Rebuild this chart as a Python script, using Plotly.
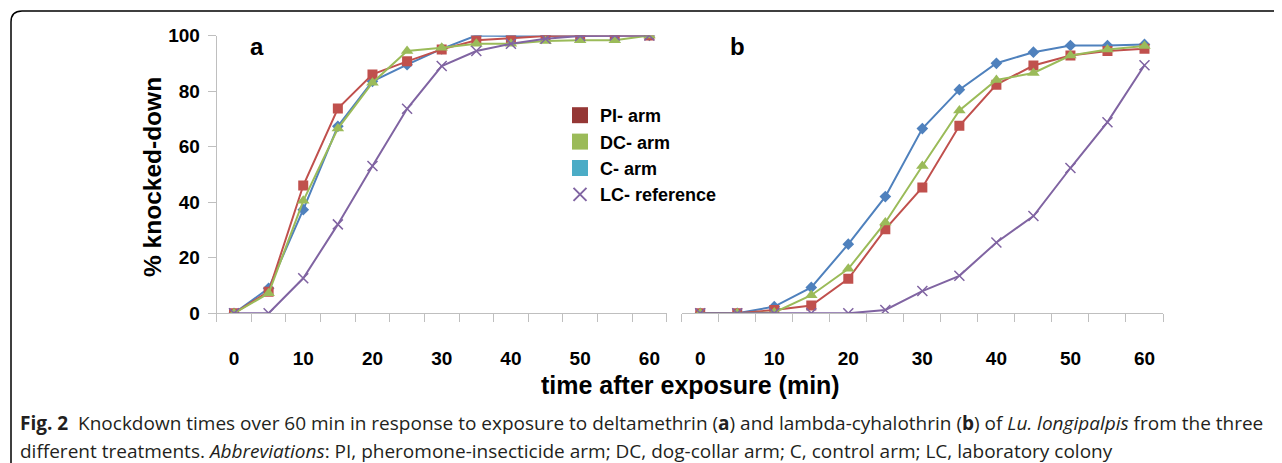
import plotly.graph_objects as go

W, H = 1282, 463
OFF = 8  # page body margin in the browser

# ---- data ----
minutes = [0, 5, 10, 15, 20, 25, 30, 35, 40, 45, 50, 55, 60]
x_tick_vals = [0, 10, 20, 30, 40, 50, 60]
x_tick_text = ["0", "10", "20", "30", "40", "50", "60"]
y_tick_vals = [0, 20, 40, 60, 80, 100]

a_PI = [0, 7.8, 46, 73.7, 86, 90.7, 95, 98.3, 99, 99.8, 100, 100, 100]
a_DC = [0, 7.2, 40.5, 66.5, 83, 94.4, 95.6, 97, 97, 98, 98.3, 98.3, 100]
a_C = [0, 9, 37.3, 67.3, 83.5, 89.5, 95.2, 100, 99.8, 100, 100, 100, 100]
a_LC = [0, 0, 12.6, 32, 53, 73.6, 89, 94.4, 97, 98.8, 99.8, 100, 100]

b_PI = [0, 0, 1.2, 2.8, 12.4, 30.3, 45.3, 67.5, 82.3, 89.2, 92.8, 94.4, 95.2]
b_DC = [0, 0, 0.3, 6.5, 16, 32.7, 53, 73, 84, 86.5, 92.8, 95, 96.2]
b_C = [0, 0, 2.4, 9.3, 24.9, 42, 66.5, 80.5, 90, 94, 96.4, 96.4, 96.8]
b_LC = [0, 0, 0, 0, 0, 1.2, 8, 13.5, 25.5, 35, 52.3, 68.8, 89.3]

series_names = ["PI- arm", "DC- arm", "C- arm", "LC- reference"]


def px(x):
    return (x - OFF) / W


def py(y):
    return 1 - (y - OFF) / H


AX = "#BFBFBF"
RED, GREEN, BLUE, PURPLE = "#C0504D", "#9BBB59", "#4F81BD", "#8064A2"
FONT = "Liberation Sans, Arial, sans-serif"

fig = go.Figure()


def add_panel(xa, ya, pi, dc, c, lc):
    # drawing order: C, PI, DC, LC
    fig.add_trace(go.Scatter(x=minutes, y=c, xaxis=xa, yaxis=ya, mode="lines+markers",
                             line=dict(color=BLUE, width=2),
                             marker=dict(symbol="diamond", size=9, color=BLUE),
                             showlegend=False))
    fig.add_trace(go.Scatter(x=minutes, y=pi, xaxis=xa, yaxis=ya, mode="lines+markers",
                             line=dict(color=RED, width=2),
                             marker=dict(symbol="square", size=10, color=RED),
                             showlegend=False))
    fig.add_trace(go.Scatter(x=minutes, y=dc, xaxis=xa, yaxis=ya, mode="lines+markers",
                             line=dict(color=GREEN, width=2),
                             marker=dict(symbol="triangle-up", size=11, color=GREEN),
                             showlegend=False))
    fig.add_trace(go.Scatter(x=minutes, y=lc, xaxis=xa, yaxis=ya, mode="lines+markers",
                             line=dict(color=PURPLE, width=2),
                             marker=dict(symbol="x-thin-open", size=10, color=PURPLE,
                                         line=dict(color=PURPLE, width=1.5)),
                             showlegend=False))


add_panel("x", "y", a_PI, a_DC, a_C, a_LC)
add_panel("x2", "y2", b_PI, b_DC, b_C, b_LC)

# legend-only entries
leg_colors = ["#953735", "#9BBB59", "#4BACC6"]
for name, col in zip(series_names[:3], leg_colors):
    fig.add_trace(go.Scatter(x=[None], y=[None], mode="markers", name=name,
                             marker=dict(symbol="square", size=16, color=col)))
fig.add_trace(go.Scatter(x=[None], y=[None], mode="markers", name=series_names[3],
                         marker=dict(symbol="x-thin-open", size=13, color=PURPLE,
                                     line=dict(color=PURPLE, width=2))))

tickfont = dict(family=FONT, size=19, color="#000", weight="bold")
xcommon = dict(range=[-2.5, 62.5], showline=True, linecolor=AX, linewidth=1,
               tickmode="array", tickvals=x_tick_vals, ticktext=x_tick_text,
               ticks="", tickfont=tickfont, showgrid=False, zeroline=False,
               ticklabelstandoff=28, fixedrange=True, automargin=False,
               minor=dict(tick0=-2.5, dtick=5, ticks="outside", ticklen=8,
                          tickcolor=AX, tickwidth=1, showgrid=False))
ydom = [py(313.3), py(35.5)]

fig.update_layout(
    template="none",
    width=W, height=H,
    margin=dict(l=0, r=0, t=0, b=0, pad=0, autoexpand=False),
    paper_bgcolor="white", plot_bgcolor="white",
    font=dict(family=FONT, color="#000"),
    xaxis=dict(domain=[px(216.7), px(666.7)], anchor="y", **xcommon),
    yaxis=dict(domain=ydom, anchor="x", range=[0, 100], showline=True, linecolor=AX,
               linewidth=1, tickmode="array", tickvals=y_tick_vals, ticks="outside",
               ticklen=8, tickcolor=AX, tickfont=tickfont, showgrid=False,
               zeroline=False, ticklabelstandoff=4, automargin=False, fixedrange=True),
    xaxis2=dict(domain=[px(681.7), px(1163)], anchor="y2", **xcommon),
    yaxis2=dict(domain=ydom, anchor="x2", range=[0, 100], visible=False,
                automargin=False, fixedrange=True),
    legend=dict(x=px(560), y=py(97), xanchor="left", yanchor="top",
                font=dict(family=FONT, size=18, color="#000", weight="bold"),
                itemwidth=30, bgcolor="rgba(0,0,0,0)", tracegroupgap=0,
                borderwidth=0),
    showlegend=True,
)

ann = [
    dict(text="<b>a</b>", x=px(257), y=py(47), size=24),
    dict(text="<b>b</b>", x=px(737), y=py(47), size=24),
    dict(text="<b>time after exposure (min)</b>", x=px(690), y=py(385), size=25),
]
for a in ann:
    fig.add_annotation(text=a["text"], x=a["x"], y=a["y"], xref="paper", yref="paper",
                       showarrow=False, xanchor="center", yanchor="middle",
                       font=dict(family=FONT, size=a["size"], color="#000"))
fig.add_annotation(text="<b>% knocked-down</b>", x=px(152), y=py(177), xref="paper",
                   yref="paper", showarrow=False, textangle=-90, xanchor="center",
                   yanchor="middle", font=dict(family=FONT, size=24.5, color="#000"))

CAP = "Open Sans, Lato, sans-serif"
fig.add_annotation(
    text="<b>Fig. 2</b>  Knockdown times over 60 min in response to exposure to deltamethrin "
         "(<b>a</b>) and lambda-cyhalothrin (<b>b</b>) of <i>Lu. longipalpis</i> from the three",
    x=px(18), y=py(423), xref="paper", yref="paper", showarrow=False,
    xanchor="left", yanchor="middle", font=dict(family=CAP, size=19, color="#231F20"))
fig.add_annotation(
    text="different treatments. <i>Abbreviations</i>: PI, pheromone-insecticide arm; DC, "
         "dog-collar arm; C, control arm; LC, laboratory colony",
    x=px(18), y=py(451), xref="paper", yref="paper", showarrow=False,
    xanchor="left", yanchor="middle", font=dict(family=CAP, size=19, color="#231F20"))

# figure frame (rounded top-left corner)
r = 11
path = (f"M {px(11)},{py(480)} L {px(11)},{py(11 + r)} "
        f"Q {px(11)},{py(11)} {px(11 + r)},{py(11)} L {px(1300)},{py(11)}")
fig.add_shape(type="path", path=path, xref="paper", yref="paper",
              line=dict(color="#000", width=1.5))

fig.write_html("out.html")
